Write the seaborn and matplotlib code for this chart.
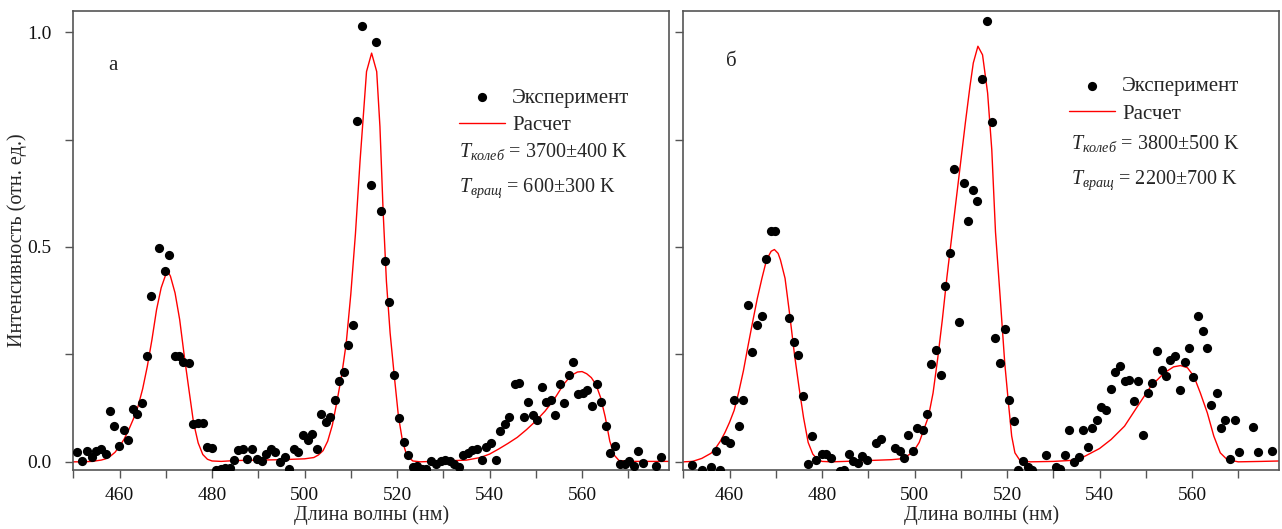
import matplotlib
matplotlib.use("Agg")
import matplotlib.pyplot as plt
import seaborn as sns
import pandas as pd
from matplotlib.ticker import MultipleLocator

# ---------------- data ----------------
left_exp_x = [450.7, 451.9, 453.0, 454.1, 455.0, 455.9, 457.0, 457.9, 458.8, 459.8, 460.9, 461.8,
              462.9, 463.8, 464.9, 465.9, 466.9, 468.6, 469.9, 470.8, 471.9, 472.8, 473.8, 475.0,
              475.8, 476.9, 478.0, 478.9, 479.9, 480.8, 481.9, 482.8, 483.8, 484.8, 485.7, 486.7,
              487.6, 488.7, 489.8, 490.7, 491.6, 492.7, 493.7, 494.7, 495.7, 496.6, 497.7, 498.6,
              499.7, 500.7, 501.6, 502.6, 503.6, 504.6, 505.6, 506.5, 507.5, 508.5, 509.5, 510.5,
              511.4, 512.4, 514.4, 515.5, 516.5, 517.4, 518.3, 519.4, 520.4, 521.5, 522.4, 523.5,
              524.4, 525.4, 526.3, 527.3, 528.4, 529.4, 530.3, 531.4, 532.3, 533.4, 534.2, 535.3,
              536.2, 537.3, 538.3, 539.2, 540.3, 541.3, 542.3, 543.3, 544.3, 545.4, 546.3, 547.4,
              548.4, 549.3, 550.2, 551.3, 552.1, 553.2, 554.2, 555.2, 556.2, 557.2, 558.1, 559.2,
              560.2, 561.1, 562.2, 563.3, 564.2, 565.2, 566.1, 567.2, 568.1, 569.2, 570.1, 571.2,
              572.1, 573.2, 576.0, 577.1]
left_exp_y = [0.022, 0.001, 0.025, 0.011, 0.025, 0.029, 0.019, 0.118, 0.083, 0.038, 0.073, 0.050,
              0.123, 0.112, 0.137, 0.246, 0.387, 0.498, 0.443, 0.481, 0.247, 0.247, 0.232, 0.229,
              0.087, 0.091, 0.091, 0.034, 0.032, -0.018, -0.016, -0.014, -0.014, 0.005, 0.027, 0.030,
              0.007, 0.031, 0.007, 0.001, 0.019, 0.029, 0.022, 0.000, 0.011, -0.016, 0.029, 0.022,
              0.063, 0.050, 0.065, 0.029, 0.112, 0.093, 0.105, 0.145, 0.187, 0.208, 0.271, 0.319,
              0.794, 1.013, 0.643, 0.977, 0.584, 0.467, 0.371, 0.201, 0.101, 0.047, 0.017, -0.013,
              -0.010, -0.016, -0.016, 0.003, -0.006, 0.003, 0.005, 0.001, -0.006, -0.013, 0.015, 0.021,
              0.027, 0.029, 0.005, 0.035, 0.043, 0.005, 0.071, 0.089, 0.104, 0.180, 0.184, 0.104,
              0.139, 0.108, 0.098, 0.174, 0.139, 0.143, 0.108, 0.180, 0.137, 0.201, 0.232, 0.158,
              0.160, 0.168, 0.129, 0.180, 0.139, 0.084, 0.021, 0.038, -0.006, -0.006, 0.003, -0.010,
              0.026, -0.002, -0.010, 0.011]

left_fit_x = [450, 452, 454, 456, 457, 458, 459, 460, 461, 462, 463, 464, 465, 466, 467, 468, 469,
              470, 470.6, 471, 472, 473, 474, 475, 476, 477, 478, 479, 480, 482, 485, 490, 495, 500,
              502, 503, 504, 505, 506, 507, 508, 509, 510, 511, 512, 513.4, 514.5, 515.6, 516.3,
              517, 517.7, 518.5, 519.4, 520.3, 521.2, 522.1, 523.4, 525, 530, 535, 538, 540, 542,
              544, 546, 548, 550, 552, 554, 556, 557, 558, 559, 560, 561, 562, 563, 564, 565, 566,
              567, 568, 570, 575, 579]
left_fit_y = [0.0, 0.0, 0.001, 0.004, 0.007, 0.013, 0.022, 0.036, 0.053, 0.075, 0.100, 0.129, 0.170,
              0.222, 0.284, 0.354, 0.405, 0.436, 0.440, 0.432, 0.393, 0.331, 0.246, 0.168, 0.091,
              0.044, 0.017, 0.006, 0.002, 0.001, 0.003, 0.004, 0.005, 0.007, 0.010, 0.016, 0.026,
              0.048, 0.085, 0.140, 0.200, 0.275, 0.39, 0.53, 0.70, 0.908, 0.951, 0.908, 0.78, 0.58,
              0.42, 0.30, 0.20, 0.106, 0.047, 0.015, 0.002, 0.0, 0.002, 0.004, 0.010, 0.018, 0.030,
              0.043, 0.057, 0.075, 0.095, 0.118, 0.146, 0.180, 0.193, 0.203, 0.209, 0.210, 0.205,
              0.196, 0.180, 0.150, 0.105, 0.048, 0.015, 0.003, 0.001, 0.001, 0.001]

right_exp_x = [451.9, 454.0, 456.0, 457.0, 457.9, 459.0, 460.0, 460.9, 462.0, 463.0, 464.0, 464.9,
               465.9, 467.0, 467.9, 468.9, 469.9, 472.9, 473.9, 474.9, 475.8, 476.9, 477.8, 478.8,
               479.9, 480.8, 481.9, 483.8, 484.8, 485.8, 486.8, 487.8, 488.7, 489.8, 491.7, 492.7,
               495.7, 496.8, 497.7, 498.6, 499.7, 500.5, 501.8, 502.6, 503.6, 504.6, 505.7, 506.5,
               507.6, 508.6, 509.7, 510.6, 511.5, 512.6, 513.6, 514.5, 515.6, 516.7, 517.5, 518.5,
               519.5, 520.5, 521.5, 522.4, 523.5, 524.6, 525.4, 528.4, 530.5, 531.5, 532.5, 533.5,
               534.5, 535.5, 536.4, 537.5, 538.4, 539.4, 540.4, 541.4, 542.4, 543.4, 544.4, 545.4,
               546.4, 547.4, 548.4, 549.4, 550.4, 551.4, 552.4, 553.4, 554.4, 555.3, 556.3, 557.4,
               558.4, 559.3, 560.3, 561.3, 562.3, 563.3, 564.2, 565.3, 566.2, 567.2, 568.1, 569.2,
               570.2, 573.2, 574.2, 577.2]
right_exp_y = [-0.008, -0.019, -0.012, 0.025, -0.020, 0.050, 0.044, 0.143, 0.083, 0.143, 0.364, 0.256,
               0.319, 0.339, 0.473, 0.538, 0.538, 0.334, 0.279, 0.248, 0.154, -0.004, 0.060, 0.005,
               0.019, 0.019, 0.009, -0.022, -0.020, 0.019, 0.003, -0.002, 0.013, 0.004, 0.044, 0.054,
               0.033, 0.025, 0.009, 0.062, 0.026, 0.079, 0.074, 0.112, 0.228, 0.260, 0.201, 0.410,
               0.486, 0.681, 0.325, 0.649, 0.561, 0.633, 0.608, 0.891, 1.026, 0.791, 0.287, 0.230,
               0.308, 0.145, 0.096, -0.019, 0.003, -0.012, -0.020, 0.016, -0.013, -0.017, 0.015, 0.074,
               0.000, 0.011, 0.074, 0.035, 0.079, 0.097, 0.127, 0.121, 0.169, 0.208, 0.223, 0.187,
               0.190, 0.142, 0.188, 0.063, 0.159, 0.183, 0.257, 0.213, 0.199, 0.236, 0.246, 0.168,
               0.233, 0.265, 0.198, 0.339, 0.304, 0.265, 0.132, 0.161, 0.079, 0.098, 0.007, 0.097,
               0.024, 0.081, 0.024, 0.026]

right_fit_x = [450, 452, 454, 456, 457, 458, 459, 460, 461, 462, 463, 464, 465, 466, 467, 468, 469,
               469.7, 470.5, 471, 472, 473, 474, 475, 476, 477, 478, 479, 480, 482, 485, 490, 495,
               497, 498, 499, 500, 501, 502, 503, 504, 505, 506, 507, 508, 509, 510, 511, 512, 512.7,
               513.7, 514.7, 515.8, 516.7, 517.5, 518.5, 519.5, 520.3, 521, 521.7, 522.8, 525, 530,
               535, 537, 540, 542.5, 545.4, 548.2, 551.1, 554, 556, 557.5, 559, 560.4, 561.8, 563.3,
               564.7, 566.1, 567.6, 570, 575, 579]
right_fit_y = [0.0, 0.001, 0.008, 0.020, 0.032, 0.048, 0.068, 0.092, 0.120, 0.163, 0.212, 0.270,
               0.326, 0.380, 0.427, 0.470, 0.490, 0.494, 0.485, 0.470, 0.427, 0.343, 0.253, 0.175,
               0.103, 0.045, 0.018, 0.006, 0.001, 0.0, 0.001, 0.003, 0.005, 0.007, 0.011, 0.018,
               0.028, 0.045, 0.075, 0.105, 0.160, 0.240, 0.330, 0.430, 0.520, 0.610, 0.700, 0.790,
               0.875, 0.928, 0.967, 0.947, 0.858, 0.726, 0.535, 0.385, 0.230, 0.137, 0.060, 0.021,
               0.003, 0.0, 0.001, 0.004, 0.014, 0.031, 0.052, 0.083, 0.129, 0.176, 0.207, 0.221,
               0.224, 0.219, 0.199, 0.160, 0.114, 0.060, 0.021, 0.005, 0.0, 0.001, 0.002]

panel_letters = ["а", "б"]
t_vib_labels = ["3700±400 K", "3800±500 K"]
t_rot_labels = ["600±300 K", "2200±700 K"]
exp_label = "Эксперимент"
fit_label = "Расчет"
x_label = "Длина волны (нм)"
y_label = "Интенсивность (отн. ед.)"

# ---------------- style ----------------
sns.set_style("ticks")
plt.rcParams["font.family"] = ["Liberation Serif", "DejaVu Serif"]
plt.rcParams["mathtext.fontset"] = "custom"
plt.rcParams["mathtext.rm"] = "Liberation Serif"
plt.rcParams["mathtext.it"] = "Liberation Serif:italic"
plt.rcParams["axes.edgecolor"] = "#555555"
plt.rcParams["xtick.color"] = "#555555"
plt.rcParams["ytick.color"] = "#555555"
plt.rcParams["xtick.labelcolor"] = "#111111"
plt.rcParams["ytick.labelcolor"] = "#111111"

W, H = 1282, 529
fig = plt.figure(figsize=(W / 100, H / 100), dpi=100)
ax_l = fig.add_axes([73.3 / W, (H - 470) / H, (669 - 73.3) / W, (470 - 11) / H])
ax_r = fig.add_axes([683.3 / W, (H - 470) / H, (1279 - 683.3) / W, (470 - 11) / H])

panels = [
    (ax_l, left_exp_x, left_exp_y, left_fit_x, left_fit_y),
    (ax_r, right_exp_x, right_exp_y, right_fit_x, right_fit_y),
]

legend_pos = [(0.6477, 0.832), (0.6475, 0.857)]
t_pos = [(0.6477, 0.681, 0.605), (0.651, 0.699, 0.6224)]
letter_pos = [(0.067, 0.881), (0.081, 0.889)]

for i, (ax, ex, ey, fx, fy) in enumerate(panels):
    df_exp = pd.DataFrame({"x": ex, "y": ey})
    df_fit = pd.DataFrame({"x": fx, "y": fy})
    sns.scatterplot(data=df_exp, x="x", y="y", ax=ax, color="black", s=44, linewidth=0,
                    label=exp_label, zorder=3)
    sns.lineplot(data=df_fit, x="x", y="y", ax=ax, color="red", linewidth=1.0, sort=False,
                 estimator=None, label=fit_label, zorder=2)
    ax.set_xlim(450, 578.8)
    ax.set_ylim(-0.019, 1.049)
    ax.xaxis.set_major_locator(MultipleLocator(20))
    ax.xaxis.set_minor_locator(MultipleLocator(10))
    ax.yaxis.set_major_locator(MultipleLocator(0.5))
    ax.yaxis.set_minor_locator(MultipleLocator(0.25))
    ax.tick_params(axis="both", which="both", direction="out", length=5.5, width=1.0)
    ax.tick_params(axis="both", which="major", labelsize=14)
    ax.tick_params(axis="x", which="major", pad=6.5)
    ax.tick_params(axis="y", which="major", pad=10)
    for sp in ax.spines.values():
        sp.set_linewidth(1.2)
        sp.set_visible(True)
    ax.set_xlabel(x_label, fontsize=14.5, labelpad=1)
    if i == 0:
        ax.set_ylabel(y_label, fontsize=14.5)
        ax.yaxis.set_label_coords(-0.078, 0.5)
        ax.yaxis.set_major_formatter(matplotlib.ticker.FormatStrFormatter("%.1f"))
    else:
        ax.set_ylabel("")
        ax.tick_params(axis="y", labelleft=False)

    lx, ly = legend_pos[i]
    ax.legend(loc="upper left", bbox_to_anchor=(lx, ly), frameon=False, fontsize=15,
              handlelength=2.2, handletextpad=0.35, borderpad=0, borderaxespad=0,
              labelspacing=0.37, markerscale=1.0)

    tx, ty1, ty2 = t_pos[i]
    ax.text(tx, ty1, r"$T_{колеб}$ = " + t_vib_labels[i], transform=ax.transAxes,
            fontsize=14.5, va="baseline", ha="left")
    ax.text(tx, ty2, r"$T_{вращ}$ = " + t_rot_labels[i], transform=ax.transAxes,
            fontsize=14.5, va="baseline", ha="left")
    px, py = letter_pos[i]
    ax.text(px, py, panel_letters[i], transform=ax.transAxes, fontsize=15,
            va="center", ha="center")

fig.savefig("out.png", dpi=100)
